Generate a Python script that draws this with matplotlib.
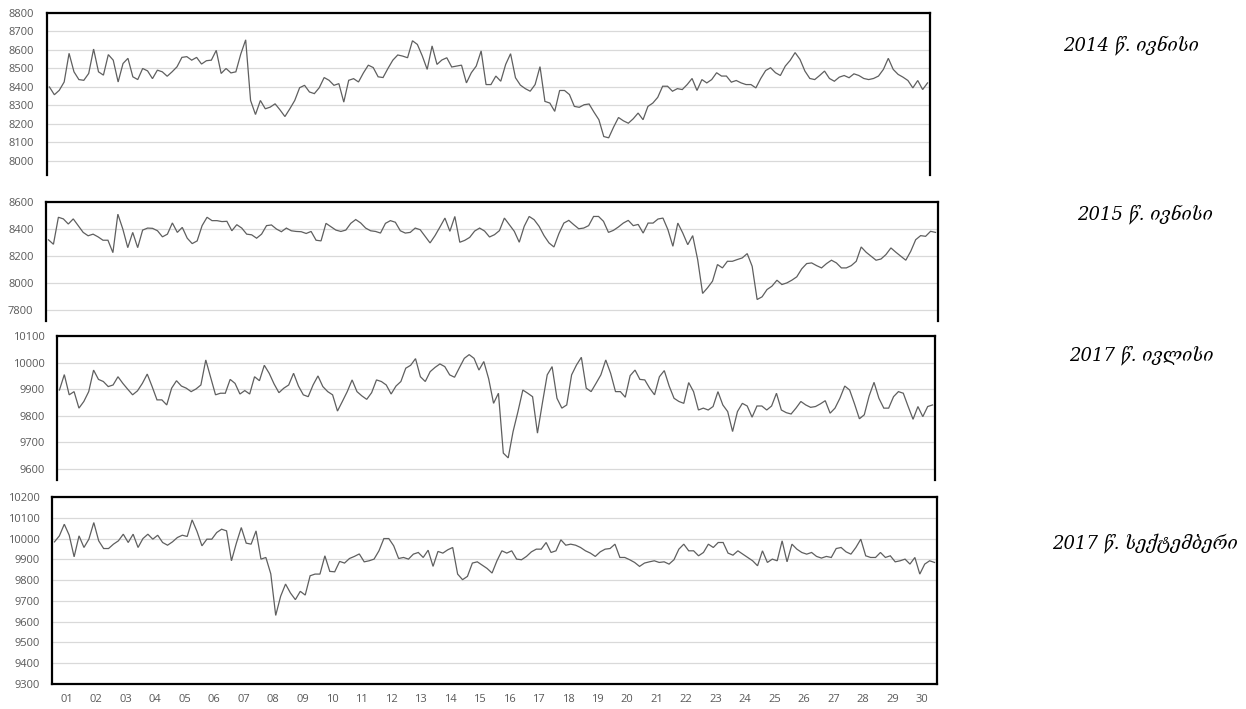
import numpy as np
import matplotlib
matplotlib.use("Agg")
import matplotlib.pyplot as plt

# ---- data: exchange-rate-like series, 6 readings per day over 30 days ----
samples_per_day = 6

vals_2014_jun = [
 8400, 8358, 8382, 8427, 8582, 8482, 8440, 8436, 8473, 8605, 8482, 8464, 8575, 8545, 8427, 8527, 8555, 8455,
 8440, 8500, 8487, 8445, 8491, 8482, 8458, 8482, 8509, 8560, 8564, 8545, 8560, 8524, 8542, 8545, 8598, 8473,
 8500, 8476, 8482, 8578, 8655, 8327, 8251, 8327, 8282, 8291, 8309, 8276, 8240, 8282, 8327, 8396, 8409, 8373,
 8364, 8396, 8451, 8436, 8409, 8418, 8318, 8436, 8445, 8427, 8476, 8518, 8505, 8455, 8451, 8500, 8545, 8573,
 8567, 8558, 8650, 8630, 8568, 8495, 8622, 8522, 8546, 8558, 8508, 8513, 8518, 8422, 8477, 8513, 8595, 8413,
 8413, 8459, 8431, 8522, 8580, 8450, 8410, 8391, 8377, 8413, 8510, 8322, 8313, 8268, 8381, 8381, 8359, 8295,
 8290, 8304, 8308, 8264, 8223, 8132, 8125, 8183, 8235, 8217, 8204, 8228, 8259, 8223, 8295, 8313, 8344, 8404,
 8404, 8377, 8391, 8386, 8413, 8446, 8381, 8440, 8422, 8440, 8477, 8459, 8459, 8426, 8435, 8422, 8413, 8413,
 8395, 8446, 8489, 8504, 8477, 8462, 8513, 8544, 8586, 8549, 8486, 8446, 8440, 8462, 8486, 8446, 8431, 8453,
 8462, 8450, 8471, 8462, 8446, 8440, 8446, 8459, 8495, 8555, 8495, 8468, 8453, 8435, 8395, 8435, 8386, 8422]

vals_2015_jun = [
 8320, 8287, 8487, 8475, 8437, 8475, 8425, 8375, 8350, 8362, 8342, 8317, 8317, 8225, 8510, 8400, 8262, 8375,
 8262, 8392, 8407, 8405, 8387, 8342, 8362, 8445, 8375, 8412, 8332, 8292, 8312, 8425, 8487, 8462, 8462, 8455,
 8457, 8387, 8432, 8407, 8362, 8357, 8332, 8362, 8425, 8430, 8400, 8380, 8407, 8387, 8382, 8380, 8367, 8382,
 8317, 8312, 8442, 8417, 8392, 8382, 8392, 8442, 8470, 8445, 8407, 8387, 8382, 8370, 8442, 8462, 8450, 8387,
 8370, 8375, 8407, 8395, 8346, 8297, 8351, 8415, 8481, 8383, 8493, 8302, 8316, 8338, 8385, 8407, 8385, 8341,
 8358, 8388, 8481, 8432, 8383, 8302, 8420, 8493, 8469, 8420, 8351, 8297, 8267, 8366, 8444, 8464, 8432, 8402,
 8407, 8425, 8493, 8493, 8457, 8375, 8390, 8415, 8444, 8464, 8425, 8434, 8370, 8444, 8444, 8474, 8481, 8395,
 8272, 8444, 8370, 8284, 8351, 8174, 7923, 7965, 8014, 8137, 8112, 8161, 8161, 8174, 8186, 8218, 8124, 7878,
 7898, 7952, 7977, 8021, 7989, 8001, 8021, 8046, 8105, 8144, 8149, 8129, 8112, 8144, 8169, 8149, 8112, 8112,
 8129, 8161, 8267, 8228, 8198, 8169, 8178, 8211, 8260, 8228, 8198, 8169, 8235, 8321, 8351, 8346, 8383, 8375]

vals_2017_jul = [
 9897, 9955, 9879, 9891, 9829, 9854, 9891, 9972, 9937, 9929, 9910, 9916, 9947, 9922, 9900, 9879, 9894, 9922,
 9957, 9910, 9860, 9860, 9841, 9904, 9932, 9912, 9904, 9891, 9901, 9916, 10010, 9945, 9879, 9885, 9885, 9937,
 9922, 9882, 9895, 9882, 9947, 9932, 9990, 9960, 9920, 9887, 9904, 9916, 9960, 9912, 9879, 9872, 9916, 9950,
 9910, 9891, 9879, 9818, 9854, 9891, 9935, 9891, 9875, 9862, 9887, 9935, 9929, 9916, 9882, 9912, 9929, 9979,
 9990, 10015, 9947, 9929, 9966, 9982, 9995, 9985, 9954, 9945, 9981, 10016, 10030, 10016, 9972, 10004, 9939, 9847,
 9885, 9660, 9642, 9741, 9816, 9897, 9885, 9872, 9735, 9847, 9954, 9985, 9866, 9829, 9841, 9954, 9991, 10020,
 9904, 9891, 9922, 9954, 10010, 9960, 9891, 9891, 9870, 9951, 9972, 9937, 9935, 9904, 9879, 9947, 9970, 9912,
 9866, 9854, 9847, 9925, 9891, 9822, 9829, 9822, 9835, 9891, 9841, 9816, 9741, 9816, 9847, 9837, 9795, 9837,
 9837, 9822, 9837, 9885, 9822, 9812, 9807, 9829, 9854, 9841, 9832, 9835, 9845, 9857, 9810, 9829, 9866, 9912,
 9897, 9845, 9789, 9804, 9875, 9926, 9866, 9829, 9829, 9872, 9891, 9885, 9835, 9787, 9835, 9797, 9835, 9841]

vals_2017_sep = [
 9984, 10013, 10069, 10016, 9912, 10013, 9957, 9997, 10077, 9989, 9952, 9952, 9973, 9989, 10021, 9981, 10021, 9957,
 10000, 10021, 9997, 10016, 9981, 9968, 9984, 10005, 10016, 10010, 10090, 10034, 9965, 9997, 9997, 10029, 10045, 10037,
 9893, 9978, 10053, 9978, 9973, 10037, 9901, 9909, 9830, 9630, 9722, 9781, 9738, 9706, 9746, 9728, 9821, 9829,
 9829, 9917, 9842, 9840, 9890, 9882, 9904, 9914, 9926, 9888, 9893, 9901, 9941, 10000, 10000, 9965, 9904, 9909,
 9901, 9925, 9933, 9909, 9944, 9866, 9938, 9930, 9946, 9957, 9829, 9802, 9818, 9882, 9888, 9872, 9856, 9834,
 9893, 9941, 9930, 9941, 9901, 9898, 9914, 9936, 9949, 9949, 9981, 9933, 9941, 9994, 9968, 9973, 9968, 9957,
 9941, 9930, 9914, 9936, 9949, 9952, 9973, 9909, 9909, 9898, 9885, 9866, 9882, 9888, 9893, 9885, 9888, 9877,
 9898, 9949, 9973, 9941, 9941, 9917, 9933, 9973, 9957, 9981, 9981, 9930, 9920, 9941, 9925, 9909, 9893, 9869,
 9941, 9885, 9901, 9893, 9989, 9888, 9973, 9949, 9933, 9925, 9933, 9914, 9906, 9914, 9909, 9952, 9957, 9936,
 9925, 9957, 9997, 9917, 9909, 9909, 9933, 9909, 9917, 9888, 9893, 9901, 9877, 9909, 9829, 9877, 9893, 9885]

panel_titles = ["2014 წ. ივნისი", "2015 წ. ივნისი", "2017 წ. ივლისი", "2017 წ. სექტემბერი"]
day_labels = [f"{d:02d}" for d in range(1, 31)]

# ---- layout helpers (pixel boxes of the reference) ----
W, H = 1246, 709
fig = plt.figure(figsize=(W / 100, H / 100), dpi=100)


def box(l, t, r, b):
    return [l / W, 1 - b / H, (r - l) / W, (b - t) / H]


panels = [
    dict(vals=vals_2014_jun, rect=box(47, 13, 930, 175), ylim=(7924, 8800),
         yticks=np.arange(8000, 8801, 100), bottom=False, title_xy=(1131, 45)),
    dict(vals=vals_2015_jun, rect=box(46, 202, 938, 321), ylim=(7719, 8600),
         yticks=np.arange(7800, 8601, 200), bottom=False, title_xy=(1145, 214)),
    dict(vals=vals_2017_jul, rect=box(57, 336, 935, 480), ylim=(9559, 10100),
         yticks=np.arange(9600, 10101, 100), bottom=False, title_xy=(1141, 355)),
    dict(vals=vals_2017_sep, rect=box(52, 497, 937, 684), ylim=(9300, 10200),
         yticks=np.arange(9300, 10201, 100), bottom=True, title_xy=(1145, 543)),
]

tick_color = "#595959"
for p in panels:
    ax = fig.add_axes(p["rect"])
    v = np.asarray(p["vals"], dtype=float)
    t = 0.5 + (np.arange(len(v)) + 0.5) / samples_per_day
    ax.plot(t, v, color="#5f5f5f", lw=0.9, solid_joinstyle="miter")
    ax.set_xlim(0.5, 30.5)
    ax.set_ylim(*p["ylim"])
    ax.set_yticks(p["yticks"])
    ax.set_yticklabels([str(int(y)) for y in p["yticks"]], fontfamily="Open Sans",
                       fontsize=8, color=tick_color)
    ax.tick_params(axis="y", length=0, pad=9)
    ax.grid(axis="y", color="#d9d9d9", lw=0.9)
    ax.set_axisbelow(True)
    for s in ("top", "left", "right", "bottom"):
        ax.spines[s].set_color("black")
        ax.spines[s].set_linewidth(1.6)
    if p["bottom"]:
        ax.set_xticks(np.arange(1, 31))
        ax.set_xticklabels(day_labels, fontfamily="Open Sans", fontsize=8, color=tick_color)
        ax.tick_params(axis="x", length=0, pad=7)
    else:
        ax.spines["bottom"].set_visible(False)
        ax.set_xticks([])
    tx, ty = p["title_xy"]

for p, title in zip(panels, panel_titles):
    tx, ty = p["title_xy"]
    fig.text(tx / W, 1 - ty / H, title, ha="center", va="center",
             fontsize=13, style="italic", color="black",
             family=["DejaVu Serif", "DejaVu Sans"])

fig.savefig("out.png", dpi=100, facecolor="white")
